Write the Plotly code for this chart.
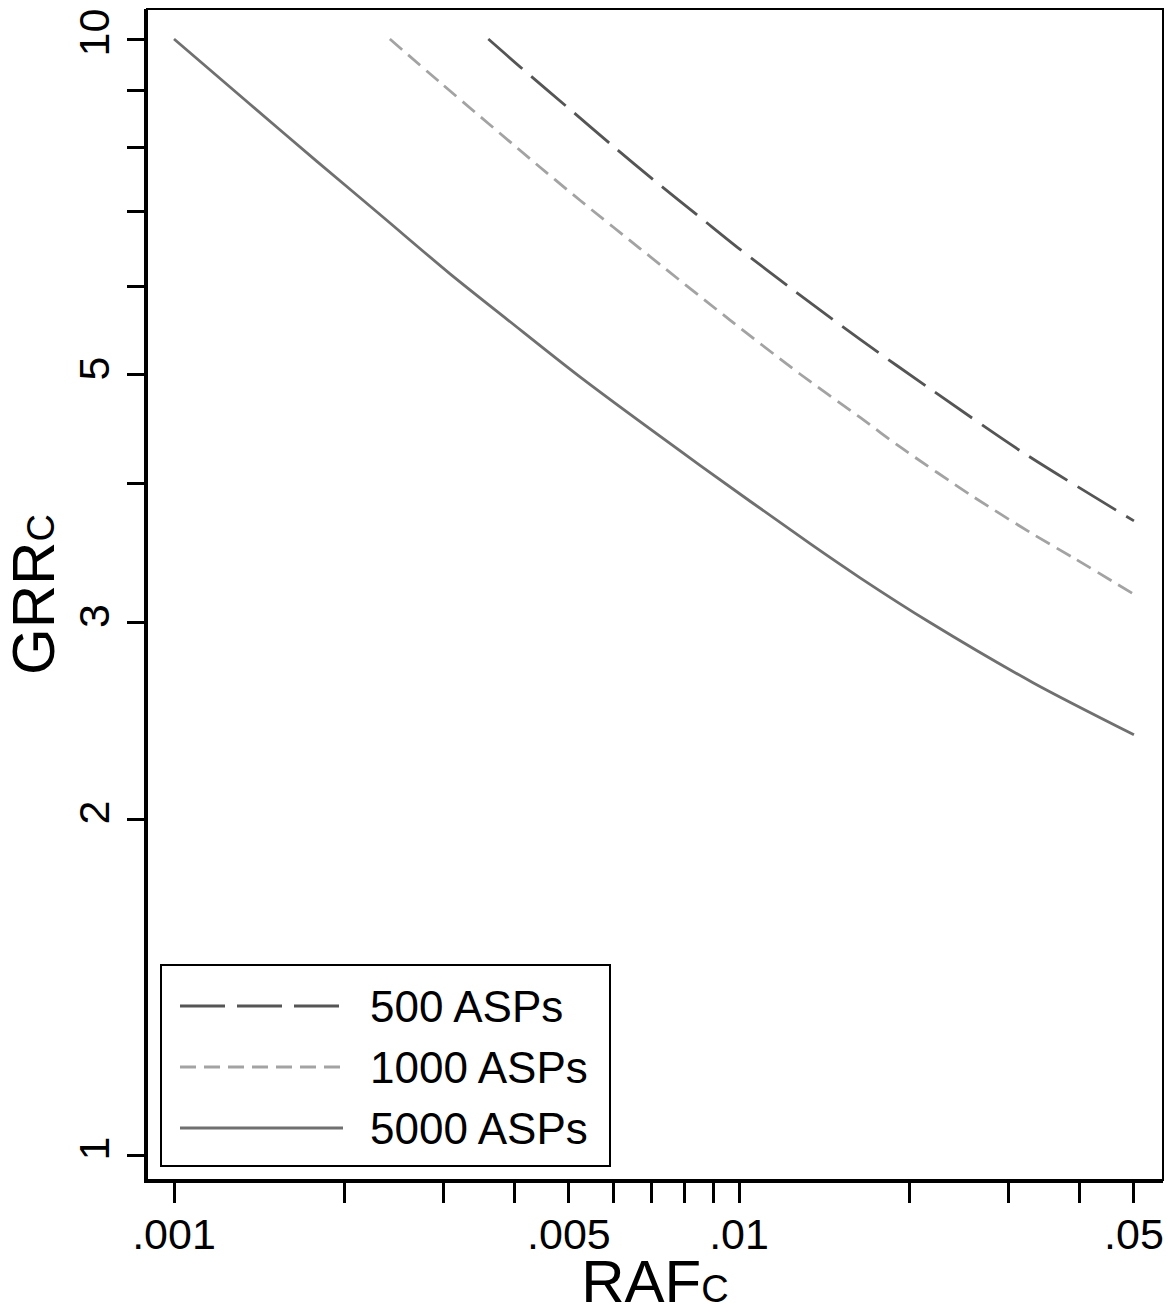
import plotly.graph_objects as go

# ---- data ----
RAF_500 = [0.0036, 0.00415, 0.00498, 0.00596, 0.0071, 0.0086, 0.00996, 0.0123,
           0.01638, 0.02178, 0.03182, 0.05]
GRR_500 = [10.0, 9.39, 8.68, 8.03, 7.46, 6.90, 6.50, 5.99, 5.38, 4.86, 4.26, 3.70]

RAF_1000 = [0.00241, 0.00296, 0.00444, 0.00523, 0.00668, 0.00964, 0.01282, 0.01638,
            0.01928, 0.02596, 0.03314, 0.03902, 0.05]
GRR_1000 = [10.0, 9.14, 7.68, 7.17, 6.49, 5.60, 5.01, 4.58, 4.31, 3.89, 3.60, 3.43, 3.18]

RAF_5000 = [0.001, 0.00136, 0.00179, 0.00234, 0.00308, 0.0039, 0.00523, 0.00853,
            0.01336, 0.01638, 0.02178, 0.03314, 0.05]
GRR_5000 = [10.0, 8.75, 7.77, 6.93, 6.16, 5.60, 4.98, 4.15, 3.53, 3.29, 3.00, 2.65, 2.38]

series_names = ["500 ASPs", "1000 ASPs", "5000 ASPs"]
series_colors = ["#555555", "#a3a3a3", "#707070"]
series_dash = ["45px,12px", "16px,8px", "solid"]

x_tickvals = [0.001, 0.005, 0.01, 0.05]
x_ticktext = [".001", ".005", ".01", ".05"]
x_minor = [0.002, 0.003, 0.004, 0.006, 0.007, 0.008, 0.009, 0.02, 0.03, 0.04]
y_tickvals = [1, 2, 3, 5, 10]
y_ticktext = ["1", "2", "3", "5", "10"]
y_minor = [4, 6, 7, 8, 9]
y_grid = [2, 3, 5, 10]

FONT = "Liberation Sans, Arial, sans-serif"

xs = [RAF_500, RAF_1000, RAF_5000]
ys = [GRR_500, GRR_1000, GRR_5000]

fig = go.Figure()
for x, y, n, c, d in zip(xs, ys, series_names, series_colors, series_dash):
    fig.add_trace(go.Scatter(x=x, y=y, name=n, mode="lines",
                             line=dict(color=c, width=2.8, dash=d, shape="spline", smoothing=0.8),
                             showlegend=False))

XR = [-3.0478, -1.2496]
YR = [-0.0224, 1.0269]

fig.update_layout(
    width=1175, height=1315,
    margin=dict(l=147, r=12, t=9, b=135),
    paper_bgcolor="white", plot_bgcolor="white",
    font=dict(family=FONT, size=43, color="black"),
    showlegend=False,
    xaxis=dict(type="log", range=XR, tickmode="array", tickvals=x_tickvals,
               ticktext=x_ticktext, ticks="outside", ticklen=20, tickwidth=2.5,
               tickcolor="black", showgrid=False, zeroline=False,
               showline=True, linecolor="black", linewidth=3,
               minor=dict(tickmode="array", tickvals=x_minor, ticks="outside",
                          ticklen=20, tickwidth=2.5, tickcolor="black", showgrid=False),
               tickfont=dict(size=43), ticklabelstandoff=-6,
               title=dict(text="RAF<span style='font-size:38px'>C</span>",
                          font=dict(size=60), standoff=2)),
    yaxis=dict(type="log", range=YR, tickmode="array", tickvals=y_tickvals,
               ticktext=y_ticktext, ticks="outside", ticklen=17, tickwidth=2.5,
               tickcolor="black", showgrid=False, zeroline=False, tickangle=-90,
               showline=True, linecolor="black", linewidth=3,
               minor=dict(tickmode="array", tickvals=y_minor, ticks="outside",
                          ticklen=17, tickwidth=2.5, tickcolor="black", showgrid=False),
               tickfont=dict(size=43), ticklabelstandoff=1,
               title=dict(text="GRR<span style='font-size:38px'>C</span>",
                          font=dict(size=60), standoff=4)),
    yaxis2=dict(type="log", range=YR, overlaying="y", tickmode="array",
                tickvals=y_grid, showticklabels=False, ticks="",
                showgrid=True, gridcolor="#dcdcdc", gridwidth=2, zeroline=False,
                showline=False),
)

# thin frame on top/right
fig.add_shape(type="rect", xref="paper", yref="paper", x0=0, x1=1, y0=0, y1=1,
              line=dict(color="black", width=2), layer="above")

# manual legend (paper coordinates)
W, H = 1016.0, 1171.0
def px(x):
    return (x - 147) / W
def py(y):
    return (1180 - y) / H

fig.add_shape(type="rect", xref="paper", yref="paper",
              x0=px(161), x1=px(610), y0=py(1166), y1=py(965),
              line=dict(color="black", width=2), fillcolor="white", layer="above")
rows = [1006, 1067, 1128]
for n, c, d, r in zip(series_names, series_colors, series_dash, rows):
    fig.add_shape(type="line", xref="paper", yref="paper",
                  x0=px(180), x1=px(343), y0=py(r), y1=py(r),
                  line=dict(color=c, width=2.8, dash=d), layer="above")
    fig.add_annotation(xref="paper", yref="paper", x=px(368), y=py(r), text=n,
                       showarrow=False, xanchor="left", yanchor="middle",
                       font=dict(size=44, family=FONT, color="black"))

fig.write_html("out.html", config={"displayModeBar": False},
               post_script="document.body.style.margin='0px';")
